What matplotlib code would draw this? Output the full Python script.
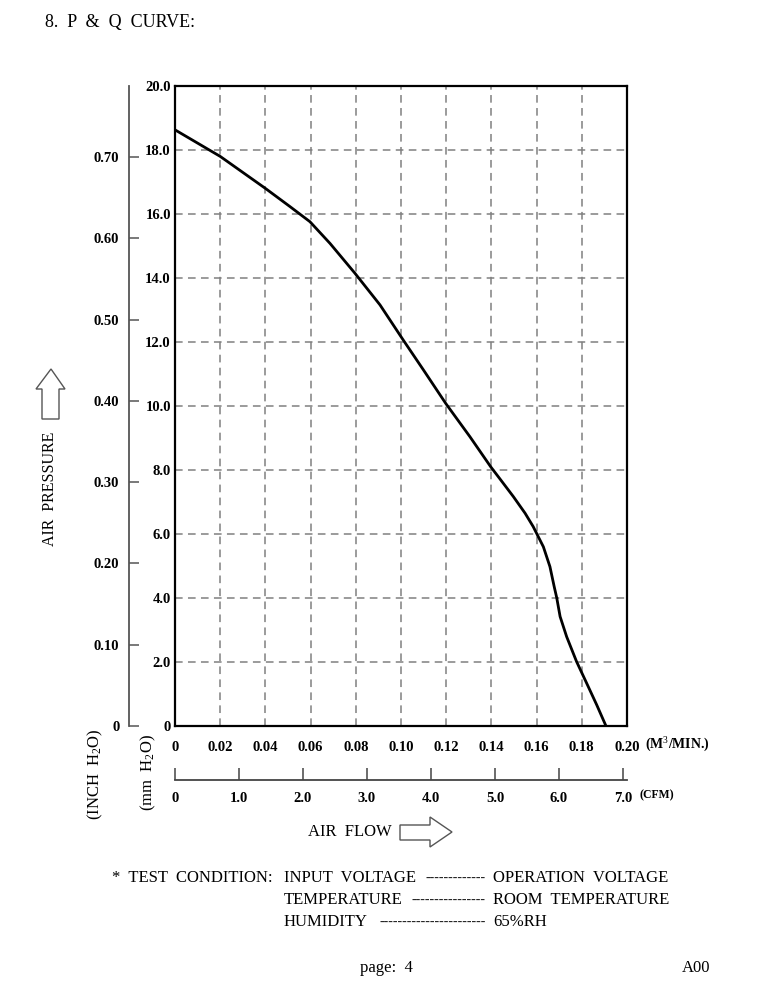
import numpy as np
import matplotlib
matplotlib.use("Agg")
import matplotlib.pyplot as plt
from matplotlib.patches import Polygon

plt.rcParams['font.family'] = ['Liberation Serif', 'DejaVu Serif']
plt.rcParams['mathtext.fontset'] = 'custom'
plt.rcParams['mathtext.rm'] = 'Liberation Serif'
plt.rcParams['mathtext.it'] = 'Liberation Serif:italic'
plt.rcParams['mathtext.bf'] = 'Liberation Serif:bold'

# P-Q curve (flow in m3/min, pressure in mm H2O)
flow = [0.000, 0.020, 0.040, 0.0509, 0.0597, 0.0686, 0.0796, 0.0907, 0.1010,
        0.1099, 0.1198, 0.1305, 0.1397, 0.1438, 0.1497, 0.1549, 0.1585, 0.1600,
        0.1630, 0.1659, 0.1678, 0.1689, 0.1704, 0.1733, 0.1777, 0.1822, 0.1866, 0.1907]
pressure = [18.63, 17.80, 16.80, 16.23, 15.76, 15.08, 14.15, 13.16, 12.06,
            11.13, 10.08, 9.04, 8.10, 7.72, 7.17, 6.65, 6.23, 6.02,
            5.60, 4.98, 4.35, 4.01, 3.42, 2.79, 2.01, 1.33, 0.66, 0.0]

flow_ticks = [0, 0.02, 0.04, 0.06, 0.08, 0.10, 0.12, 0.14, 0.16, 0.18, 0.20]
flow_labels = ["0", "0.02", "0.04", "0.06", "0.08", "0.10", "0.12", "0.14", "0.16", "0.18", "0.20"]
mm_ticks = [0, 2, 4, 6, 8, 10, 12, 14, 16, 18, 20]
mm_labels = ["0", "2.0", "4.0", "6.0", "8.0", "10.0", "12.0", "14.0", "16.0", "18.0", "20.0"]
inch_ticks = [0, 0.1, 0.2, 0.3, 0.4, 0.5, 0.6, 0.7]
inch_labels = ["0", "0.10", "0.20", "0.30", "0.40", "0.50", "0.60", "0.70"]
cfm_ticks = [0, 1, 2, 3, 4, 5, 6, 7]
cfm_labels = ["0", "1.0", "2.0", "3.0", "4.0", "5.0", "6.0", "7.0"]

W, H = 768, 997
fig = plt.figure(figsize=(W / 100, H / 100), dpi=100)

# overlay in pixel coords for page text and arrows
ov = fig.add_axes([0, 0, 1, 1])
ov.set_xlim(0, W)
ov.set_ylim(H, 0)
ov.axis("off")

# main chart
ax = fig.add_axes([175 / W, 1 - 726 / H, 452 / W, 640 / H])
ax.plot(flow, pressure, color="black", lw=2.0, zorder=3,
        solid_joinstyle="round", solid_capstyle="round")
ax.set_xlim(0, 0.2)
ax.set_ylim(0, 20)
ax.set_xticks(flow_ticks)
ax.set_xticklabels(flow_labels)
ax.set_yticks(mm_ticks)
ax.set_yticklabels(mm_labels)
ax.grid(True, linestyle=(0, (5, 3.5)), color="#808080", lw=1.1)
ax.tick_params(length=0, labelsize=10.5)
ax.tick_params(axis="x", pad=11)
ax.tick_params(axis="y", pad=3)
for lab in ax.get_xticklabels() + ax.get_yticklabels():
    lab.set_fontweight("bold")
for s in ax.spines.values():
    s.set_linewidth(1.6)
    s.set_color("black")

# inch H2O scale
ax_in = fig.add_axes([129 / W, 1 - 726 / H, 0.5 / W, 640 / H])
ax_in.set_ylim(0, 20 / 25.4)
ax_in.set_yticks(inch_ticks)
ax_in.set_yticklabels(inch_labels)
ax_in.set_xticks([])
ax_in.patch.set_alpha(0)
for k in ["top", "right", "bottom"]:
    ax_in.spines[k].set_visible(False)
ax_in.spines["left"].set_color("#555555")
ax_in.spines["left"].set_linewidth(1.3)
ax_in.tick_params(axis="y", direction="in", length=7, width=1.1, color="#555555",
                  labelsize=10.5, pad=7)
for lab in ax_in.get_yticklabels():
    lab.set_fontweight("bold")

# CFM scale
ax_c = fig.add_axes([175 / W, 1 - 780 / H, 452 / W, 0.5 / H])
ax_c.set_xlim(0, 0.2 / 0.0283168)
ax_c.set_xticks(cfm_ticks)
ax_c.set_xticklabels(cfm_labels)
ax_c.set_yticks([])
ax_c.patch.set_alpha(0)
for k in ["top", "right", "left"]:
    ax_c.spines[k].set_visible(False)
ax_c.spines["bottom"].set_color("#444444")
ax_c.spines["bottom"].set_linewidth(1.3)
ax_c.tick_params(axis="x", direction="in", length=9, width=1.1, color="#444444",
                 labelsize=10.5, pad=9)
for lab in ax_c.get_xticklabels():
    lab.set_fontweight("bold")

# texts
ov.text(45, 22, "8.  P  &  Q  CURVE:", fontsize=13, ha="left", va="center")
ov.text(50, 489, "AIR  PRESSURE", fontsize=11.5, rotation=90, ha="center", va="center")
ov.text(95, 774, "(INCH  H$_2$O)", fontsize=12, rotation=90, ha="center", va="center")
ov.text(148, 773, "(mm  H$_2$O)", fontsize=12, rotation=90, ha="center", va="center")
ov.text(645, 745, "(M$^3$/MIN.)", fontsize=10, fontweight="bold", ha="left", va="center")
ov.text(639, 795, "(CFM)", fontsize=8.5, fontweight="bold", ha="left", va="center")
ov.text(308, 832, "AIR  FLOW", fontsize=12, ha="left", va="center")

ov.text(112, 878, "*  TEST  CONDITION:", fontsize=12, ha="left", va="center")
rows = [("INPUT  VOLTAGE", 13, "OPERATION  VOLTAGE"),
        ("TEMPERATURE", 16, "ROOM  TEMPERATURE"),
        ("HUMIDITY", 23, "65%RH")]
for i, (name, ndash, val) in enumerate(rows):
    y = 878 + 22 * i
    ov.text(284, y, name, fontsize=12, ha="left", va="center")
    ov.text(486, y, "-" * ndash, fontsize=10, ha="right", va="center", color="#222222")
    ov.text(493, y, val, fontsize=12, ha="left", va="center")

ov.text(360, 968, "page:  4", fontsize=12, ha="left", va="center")
ov.text(682, 968, "A00", fontsize=12, ha="left", va="center")

# hollow arrows
up = [(51, 369), (65, 389), (59, 389), (59, 419), (42, 419), (42, 389), (36, 389)]
right = [(452, 832), (430, 847), (430, 840), (400, 840), (400, 825), (430, 825), (430, 817)]
for pts in (up, right):
    ov.add_patch(Polygon(pts, closed=True, fill=False, edgecolor="#555555", lw=1.0))

fig.savefig("out.png", dpi=100)
